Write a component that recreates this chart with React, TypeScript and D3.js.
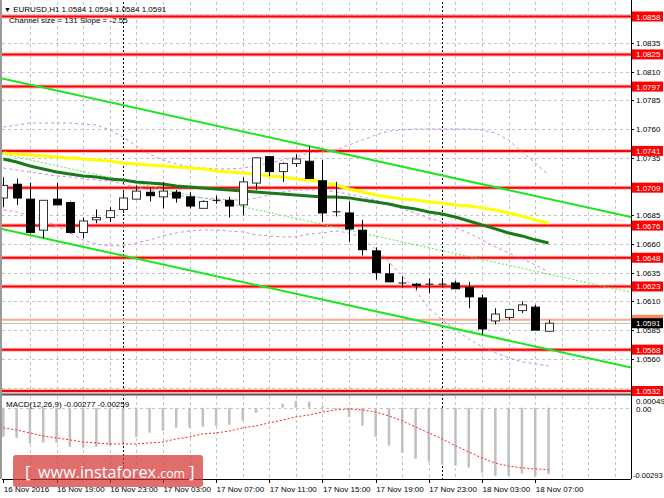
import React from 'react';
import * as d3 from 'd3';

const W = 664;
const H = 498;

// EURUSD H1 candles, bar 0 = 16 Nov 15:00
const open = [1.0700, 1.0712, 1.0699, 1.0672, 1.0699, 1.0696, 1.0670, 1.0681, 1.0683, 1.0690, 1.0699, 1.0705, 1.0701, 1.0705, 1.0701, 1.0691, 1.0698, 1.0698, 1.0694, 1.0713, 1.0736, 1.0723, 1.0730, 1.0732, 1.0715, 1.0688, 1.0687, 1.0672, 1.0654, 1.0634, 1.0626, 1.0625, 1.0625, 1.0625, 1.0626, 1.0622, 1.0613, 1.0593, 1.0596, 1.0602, 1.0605, 1.0584];
const high = [1.0718, 1.0717, 1.0713, 1.0698, 1.0713, 1.0697, 1.0683, 1.0690, 1.0692, 1.0705, 1.0711, 1.0709, 1.0714, 1.0707, 1.0705, 1.0698, 1.0702, 1.0701, 1.0718, 1.0735, 1.0736, 1.0731, 1.0738, 1.0745, 1.0733, 1.0714, 1.0697, 1.0681, 1.0657, 1.0643, 1.0632, 1.0626, 1.0630, 1.0629, 1.0628, 1.0627, 1.0616, 1.0604, 1.0603, 1.0610, 1.0607, 1.0594];
const low = [1.0692, 1.0694, 1.0669, 1.0665, 1.0694, 1.0669, 1.0665, 1.0678, 1.0679, 1.0687, 1.0699, 1.0697, 1.0691, 1.0696, 1.0691, 1.0691, 1.0695, 1.0683, 1.0685, 1.0707, 1.0719, 1.0714, 1.0727, 1.0717, 1.0679, 1.0684, 1.0662, 1.0650, 1.0629, 1.0627, 1.0622, 1.0620, 1.0617, 1.0622, 1.0621, 1.0604, 1.0581, 1.0590, 1.0594, 1.0600, 1.0585, 1.0584];
const close = [1.0711, 1.0700, 1.0670, 1.0698, 1.0694, 1.0670, 1.0680, 1.0683, 1.0689, 1.0700, 1.0706, 1.0702, 1.0706, 1.0700, 1.0693, 1.0697, 1.0698, 1.0693, 1.0714, 1.0735, 1.0723, 1.0730, 1.0734, 1.0717, 1.0687, 1.0688, 1.0673, 1.0655, 1.0635, 1.0627, 1.0626, 1.0624, 1.0625, 1.0625, 1.0621, 1.0614, 1.0586, 1.0599, 1.0603, 1.0607, 1.0585, 1.0591];

// moving averages
const maYellow = [1.07392, 1.07383, 1.07374, 1.07366, 1.07357, 1.07348, 1.07340, 1.07331, 1.07322, 1.07305, 1.07296, 1.07287, 1.07279, 1.07270, 1.07261, 1.07253, 1.07235, 1.07226, 1.07218, 1.07209, 1.07192, 1.07183, 1.07166, 1.07157, 1.07140, 1.07113, 1.07079, 1.07053, 1.07026, 1.07009, 1.06992, 1.06983, 1.06966, 1.06957, 1.06940, 1.06931, 1.06914, 1.06896, 1.06870, 1.06844, 1.06809, 1.06783];
const maGreen = [1.07340, 1.07313, 1.07279, 1.07252, 1.07226, 1.07209, 1.07192, 1.07183, 1.07165, 1.07157, 1.07139, 1.07131, 1.07122, 1.07105, 1.07096, 1.07088, 1.07079, 1.07070, 1.07062, 1.07053, 1.07044, 1.07035, 1.07027, 1.07018, 1.07009, 1.07009, 1.07001, 1.06983, 1.06966, 1.06948, 1.06922, 1.06905, 1.06879, 1.06861, 1.06835, 1.06800, 1.06766, 1.06731, 1.06696, 1.06670, 1.06636, 1.06609];

// Bollinger bands
const bbUpper = [1.07618, 1.07635, 1.07653, 1.07653, 1.07653, 1.07653, 1.07644, 1.07635, 1.07592, 1.07531, 1.07453, 1.07383, 1.07331, 1.07296, 1.07270, 1.07261, 1.07253, 1.07253, 1.07261, 1.07279, 1.07305, 1.07331, 1.07357, 1.07392, 1.07401, 1.07418, 1.07462, 1.07505, 1.07549, 1.07583, 1.07592, 1.07601, 1.07601, 1.07601, 1.07601, 1.07601, 1.07592, 1.07566, 1.07505, 1.07401, 1.07305, 1.07200];
const bbMiddle = [1.07261, 1.07244, 1.07226, 1.07209, 1.07192, 1.07183, 1.07165, 1.07157, 1.07148, 1.07122, 1.07096, 1.07070, 1.07044, 1.07026, 1.07009, 1.07000, 1.06992, 1.06983, 1.06983, 1.07000, 1.07026, 1.07052, 1.07070, 1.07070, 1.07070, 1.07052, 1.07035, 1.07009, 1.06983, 1.06939, 1.06905, 1.06870, 1.06826, 1.06792, 1.06739, 1.06696, 1.06635, 1.06574, 1.06522, 1.06470, 1.06418, 1.06357];
const bbLower = [1.06896, 1.06879, 1.06844, 1.06809, 1.06757, 1.06696, 1.06635, 1.06600, 1.06583, 1.06583, 1.06609, 1.06635, 1.06670, 1.06696, 1.06713, 1.06722, 1.06722, 1.06713, 1.06705, 1.06679, 1.06670, 1.06661, 1.06661, 1.06687, 1.06696, 1.06713, 1.06696, 1.06653, 1.06557, 1.06444, 1.06322, 1.06200, 1.06043, 1.05939, 1.05852, 1.05774, 1.05704, 1.05652, 1.05609, 1.05574, 1.05556, 1.05539];

// MACD(12,26,9)
const macdHist = [-0.00121, -0.00125, -0.00150, -0.00146, -0.00146, -0.00163, -0.00167, -0.00163, -0.00158, -0.00146, -0.00121, -0.00104, -0.00096, -0.00083, -0.00083, -0.00079, -0.00075, -0.00071, -0.00054, -0.00021, -0.00002, 0.00017, 0.00029, 0.00025, 0.00008, -0.00005, -0.00038, -0.00075, -0.00121, -0.00158, -0.00188, -0.00213, -0.00225, -0.00238, -0.00242, -0.00250, -0.00271, -0.00284, -0.00284, -0.00275, -0.00288, -0.00277];
const macdSignal = [-0.00084, -0.00093, -0.00105, -0.00118, -0.00126, -0.00134, -0.00143, -0.00147, -0.00151, -0.00151, -0.00151, -0.00147, -0.00143, -0.00130, -0.00122, -0.00109, -0.00105, -0.00097, -0.00084, -0.00076, -0.00063, -0.00051, -0.00038, -0.00030, -0.00018, -0.00009, -0.00005, -0.00009, -0.00018, -0.00034, -0.00055, -0.00080, -0.00105, -0.00130, -0.00159, -0.00184, -0.00210, -0.00231, -0.00243, -0.00251, -0.00255, -0.00259];

// regression channel: mid price at bar 0, slope per bar, width
const channelMid0 = 1.07383;
const channelSlope = -0.000255;
const channelSize = 0.0131;

const levels = [1.0858, 1.0825, 1.0797, 1.0741, 1.0709, 1.0676, 1.0648, 1.0623, 1.0568, 1.0532];
const priceTicks = [1.0860, 1.0835, 1.0810, 1.0785, 1.0760, 1.0735, 1.0710, 1.0685, 1.0660, 1.0635, 1.0610, 1.0585, 1.0560, 1.0535];
const bid = 1.0591;
const ask = 1.0594;

const timeBars = [0, 4, 8, 12, 16, 20, 24, 28, 32, 36, 40];
const timeLabels = ['16 Nov 2016', '16 Nov 19:00', '16 Nov 23:00', '17 Nov 03:00', '17 Nov 07:00', '17 Nov 11:00', '17 Nov 15:00', '17 Nov 19:00', '17 Nov 23:00', '18 Nov 03:00', '18 Nov 07:00'];
const gridBars = d3.range(2, 48, 2);
const separatorBars = [9, 33];

const FONT = '"Liberation Sans", Arial, sans-serif';
const LOGO_FONT = '"Open Sans", ' + FONT;

export default function App() {
  const left = 2, right = 631, top = 2, mainBottom = 393;
  const macdTop = 396, macdBottom = 479;

  const x = d3.scaleLinear().domain([-0.1, 47.2]).range([left, right]);
  const y = d3.scaleLinear().domain([1.0532, 1.0858]).range([391, 16.5]);
  const ym = d3.scaleLinear().domain([-0.00293, 0.00049]).range([478, 396]);

  const line = d3.line<number>().x((_, i) => x(i)).y(d => y(d));
  const sigLine = d3.line<number>().x((_, i) => x(i)).y(d => ym(d));

  const chan = (off: number) => {
    const b0 = -0.1, b1 = 47.2;
    return { x1: x(b0), y1: y(channelMid0 + channelSlope * b0 + off), x2: x(b1), y2: y(channelMid0 + channelSlope * b1 + off) };
  };
  const up = chan(channelSize / 2);
  const mid = chan(0);
  const lo = chan(-channelSize / 2);

  // tick labels that sit fully behind a level box are not drawn (hidden in MT4 too)
  const visibleTicks = priceTicks.filter(t => !levels.some(l => Math.abs(y(l) - y(t)) < 4));

  const bw = 4;

  return (
    <svg width={W} height={H} style={{ position: 'absolute', left: 0, top: 0, background: '#fff' }} fontFamily={FONT}>
      <defs>
        <clipPath id="main-clip">
          <rect x={left} y={top} width={right - left} height={mainBottom - top} />
        </clipPath>
      </defs>

      {/* grid */}
      <g stroke="#c4c4c4" strokeWidth={1} strokeDasharray="3,3">
        {priceTicks.map(t => (
          <line key={t} x1={left} x2={right} y1={Math.round(y(t)) + 0.5} y2={Math.round(y(t)) + 0.5} />
        ))}
        {gridBars.map(b => (
          <line key={b} x1={Math.round(x(b)) + 0.5} x2={Math.round(x(b)) + 0.5} y1={top} y2={mainBottom} />
        ))}
        {gridBars.map(b => (
          <line key={'m' + b} x1={Math.round(x(b)) + 0.5} x2={Math.round(x(b)) + 0.5} y1={macdTop} y2={macdBottom} />
        ))}
        <line x1={left} x2={right} y1={Math.round(ym(0)) + 0.5} y2={Math.round(ym(0)) + 0.5} />
      </g>

      {/* period separators */}
      <g stroke="#000" strokeWidth={1} strokeDasharray="2,2">
        {separatorBars.map(b => (
          <line key={b} x1={Math.round(x(b)) + 0.5} x2={Math.round(x(b)) + 0.5} y1={top} y2={macdBottom} />
        ))}
      </g>

      <g clipPath="url(#main-clip)">
        {/* red levels */}
        {levels.map(l => (
          <g key={l}>
            <line x1={left} x2={right} y1={y(l)} y2={y(l)} stroke="#ffb4b4" strokeWidth={4} />
            <line x1={left} x2={right} y1={y(l)} y2={y(l)} stroke="#ff0000" strokeWidth={2} />
          </g>
        ))}

        {/* ask / bid */}
        <line x1={left} x2={right} y1={y(ask)} y2={y(ask)} stroke="#ffa98a" strokeWidth={2} />
        <line x1={left} x2={right} y1={Math.round(y(bid)) + 0.5} y2={Math.round(y(bid)) + 0.5} stroke="#c0c0c0" strokeWidth={1} />

        {/* bollinger */}
        <g fill="none" stroke="#c98ae8" strokeWidth={1} strokeDasharray="3,3">
          <path d={line(bbUpper) || ''} />
          <path d={line(bbMiddle) || ''} />
          <path d={line(bbLower) || ''} />
        </g>

        {/* channel */}
        <line {...up} stroke="#1ee61e" strokeWidth={2} />
        <line {...lo} stroke="#1ee61e" strokeWidth={2} />
        <line {...mid} stroke="#4cee4c" strokeWidth={1} strokeDasharray="2,2" />

        {/* moving averages */}
        <path d={line(maYellow) || ''} fill="none" stroke="#ffff00" strokeWidth={3} />
        <path d={line(maGreen) || ''} fill="none" stroke="#1a7a1a" strokeWidth={3} />

        {/* candles */}
        {open.map((o, i) => {
          const c = close[i];
          const cx = Math.round(x(i)) + 0.5;
          const yTop = y(Math.max(o, c));
          const yBot = y(Math.min(o, c));
          const bull = c > o;
          const doji = Math.abs(c - o) < 0.00005;
          return (
            <g key={i}>
              <line x1={cx} x2={cx} y1={y(high[i])} y2={y(low[i])} stroke="#000" strokeWidth={1} />
              {doji ? (
                <line x1={cx - bw} x2={cx + bw} y1={yTop} y2={yTop} stroke="#000" strokeWidth={1} />
              ) : (
                <rect
                  x={cx - bw}
                  y={yTop}
                  width={bw * 2}
                  height={Math.max(1, yBot - yTop)}
                  fill={bull ? '#fff' : '#000'}
                  stroke={bull ? '#333' : '#000'}
                  strokeWidth={1}
                />
              )}
            </g>
          );
        })}
      </g>

      {/* MACD histogram + signal */}
      <g stroke="#c0c0c0" strokeWidth={2.5}>
        {macdHist.map((v, i) => (
          <line key={i} x1={x(i)} x2={x(i)} y1={ym(0)} y2={ym(v)} />
        ))}
      </g>
      <path d={sigLine(macdSignal) || ''} fill="none" stroke="#ff2020" strokeWidth={1} strokeDasharray="2,2" />

      {/* frames */}
      <line x1={1} x2={1} y1={0} y2={macdBottom} stroke="#9a9a9a" strokeWidth={2} />
      <line x1={right + 0.5} x2={right + 0.5} y1={0} y2={macdBottom} stroke="#000" strokeWidth={1} />
      <line x1={left} x2={right} y1={394.5} y2={394.5} stroke="#555" strokeWidth={2} />
      <line x1={left} x2={right} y1={macdBottom + 0.5} y2={macdBottom + 0.5} stroke="#000" strokeWidth={1} />

      {/* price axis */}
      <g fontSize={8} fill="#000">
        {priceTicks.map(t => (
          <line key={t} x1={right} x2={right + 3} y1={Math.round(y(t)) + 0.5} y2={Math.round(y(t)) + 0.5} stroke="#000" />
        ))}
        {visibleTicks.map(t => (
          <text key={t} x={636} y={y(t) + 3}>{t.toFixed(4)}</text>
        ))}
      </g>
      {levels.map(l => (
        <g key={l}>
          <rect x={right + 1} y={y(l) - 5} width={31} height={10} fill="#ff0000" />
          <text x={636} y={y(l) + 3} fontSize={8} fill="#fff">{l.toFixed(4)}</text>
        </g>
      ))}
      <rect x={right + 1} y={y(ask) - 5} width={31} height={10} fill="#ff8a5c" />
      <rect x={right + 1} y={y(bid) - 5} width={31} height={10} fill="#000" />
      <text x={636} y={y(bid) + 3} fontSize={8} fill="#fff">{bid.toFixed(4)}</text>

      {/* MACD axis */}
      <g fontSize={8} fill="#000">
        <text x={636} y={404}>0.00049</text>
        <text x={636} y={ym(0) + 4}>0.00</text>
        <text x={633} y={478} fontSize={7.5}>-0.00293</text>
      </g>

      {/* time axis */}
      <g fontSize={8} fill="#000">
        {timeBars.map((b, i) => (
          <g key={b}>
            <line x1={Math.round(x(b)) + 0.5} x2={Math.round(x(b)) + 0.5} y1={macdBottom} y2={macdBottom + 4} stroke="#000" />
            <text x={x(b) + 0.5} y={492}>{timeLabels[i]}</text>
          </g>
        ))}
      </g>

      {/* headers */}
      <g fontSize={8} fill="#000">
        <text x={4} y={12}><tspan fontSize={7}>▼</tspan> EURUSD,H1  1.0584 1.0594 1.0584 1.0591</text>
        <text x={9} y={23}>Channel size = 131 Slope = -2.55</text>
        <text x={6} y={407}>MACD(12,26,9) -0.00277 -0.00259</text>
      </g>

      {/* watermark */}
      <g fill="#fff" fontFamily={LOGO_FONT}>
        <rect x={13} y={455} width={190} height={32} rx={3} fill="rgb(214,52,52)" fillOpacity={0.72} />
        <text x={25} y={478} fontSize={17}>[</text>
        <text x={38} y={478} fontSize={17} textLength={118} lengthAdjust="spacingAndGlyphs">www.instaforex</text>
        <text x={157} y={478} fontSize={13} textLength={28} lengthAdjust="spacingAndGlyphs">.com</text>
        <text x={189} y={478} fontSize={17}>]</text>
      </g>
    </svg>
  );
}
